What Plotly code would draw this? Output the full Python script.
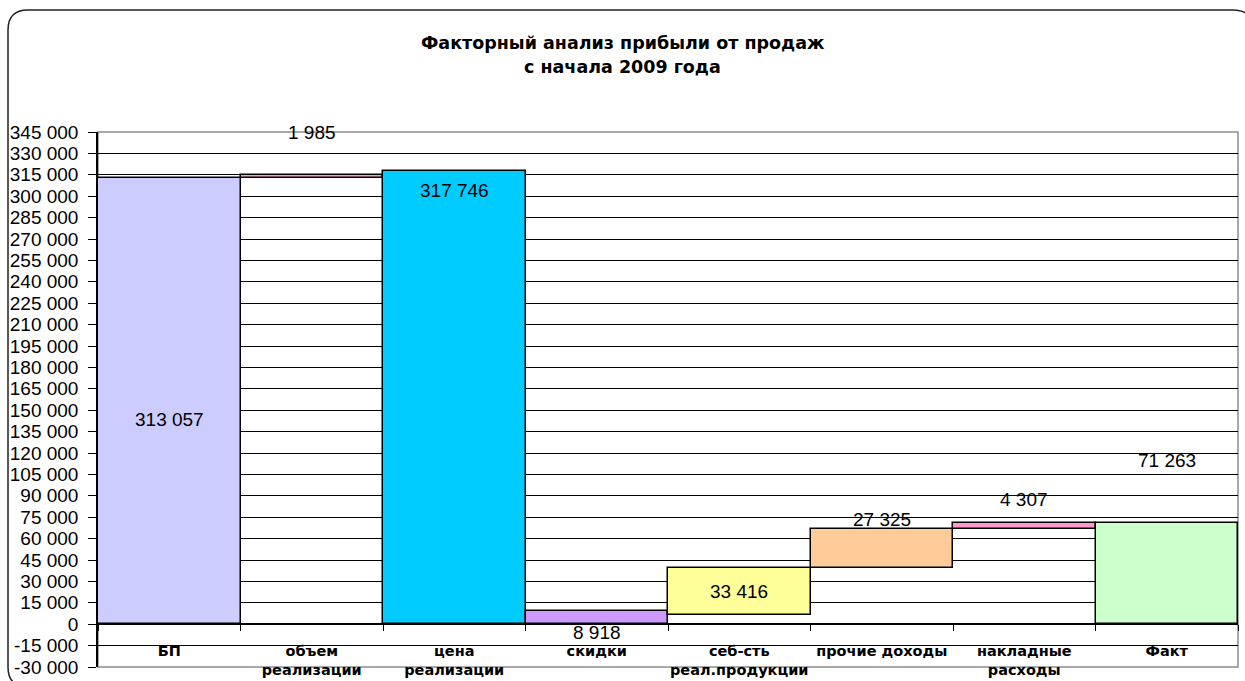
import plotly.graph_objects as go

# ---- data ----
categories = ["БП", "объем<br>реализации", "цена<br>реализации", "скидки",
              "себ-сть<br>реал.продукции", "прочие доходы", "накладные<br>расходы", "Факт"]
values = [313057, 1985, 317746, 8918, 33416, 27325, 4307, 71263]
bases = [0, 313057, 0, 0, 6215, 39631, 66956, 0]
colors = ["#CCCCFF", "#FF99CC", "#00CCFF", "#CC99FF", "#FFFF99", "#FFCC99", "#FF99CC", "#CCFFCC"]
y_ticks = list(range(-30000, 345001, 15000))
title_lines = ["Факторный анализ прибыли от продаж", "с начала 2009 года"]

# ---- layout geometry (pixels) ----
W, H = 1245, 681
L, R, T, B = 98, 7, 132, 14
PW, PH = W - L - R, H - T - B


def px(x):
    return (x - L) / PW


def py(y):
    return (H - B - y) / PH


def fmt(v):
    return f"{v:,}".replace(",", " ")


fig = go.Figure()
fig.add_trace(go.Bar(
    x=categories, y=values, base=bases, width=1,
    marker=dict(color=colors, line=dict(color="black", width=1.5)),
    hoverinfo="skip", showlegend=False,
))

# data labels: anchor on bar top or middle, with pixel offsets
label_anchor = ["mid", "top", "top", "top", "mid", "top", "top", "top"]
label_shift = [-19, 42, -20, -21.5, 0, 9, 22.6, 61.6]
annotations = []
for c, v, b, a, s in zip(categories, values, bases, label_anchor, label_shift):
    yv = b + v if a == "top" else b + v / 2
    annotations.append(dict(
        x=c, y=yv, xref="x", yref="y", text=fmt(v), showarrow=False,
        yanchor="middle", xanchor="center", yshift=s,
        font=dict(family="Liberation Sans, Arial", size=19, color="black"),
    ))

# title lines
for i, line in enumerate(title_lines):
    annotations.append(dict(
        x=px(W / 2), y=py(43 + 24 * i), xref="paper", yref="paper", text=line,
        showarrow=False, xanchor="center", yanchor="middle",
        font=dict(family="DejaVu Sans", size=17.5, color="black", weight="bold"),
    ))

# rounded chart-area frame
fl, ft, fr, fb, rad = 8, 10, 1253, 687, 20
path = (f"M {px(fl)},{py(fb - rad)} L {px(fl)},{py(ft + rad)} "
        f"Q {px(fl)},{py(ft)} {px(fl + rad)},{py(ft)} "
        f"L {px(fr - rad)},{py(ft)} Q {px(fr)},{py(ft)} {px(fr)},{py(ft + rad)} "
        f"L {px(fr)},{py(fb - rad)} Q {px(fr)},{py(fb)} {px(fr - rad)},{py(fb)} "
        f"L {px(fl + rad)},{py(fb)} Q {px(fl)},{py(fb)} {px(fl)},{py(fb - rad)} Z")

shapes = [
    dict(type="path", path=path, xref="paper", yref="paper",
         line=dict(color="#222222", width=1.5), layer="below"),
    dict(type="rect", x0=0, x1=1, y0=0, y1=1, xref="paper", yref="paper",
         line=dict(color="#8c8c8c", width=1.5), layer="below"),
]

fig.update_layout(
    width=W, height=H,
    margin=dict(l=L, r=R, t=T, b=B, pad=0, autoexpand=False),
    paper_bgcolor="white", plot_bgcolor="white",
    bargap=0, separators=", ",
    annotations=annotations, shapes=shapes,
    xaxis=dict(
        type="category", categoryorder="array", categoryarray=categories,
        anchor="free", position=30000 / 375000, automargin=False,
        showgrid=False, showline=False, zeroline=False,
        ticks="outside", tickson="boundaries", ticklen=6, tickcolor="black", tickwidth=1,
        tickangle=0,
        tickfont=dict(family="DejaVu Sans", size=14.5, color="black", weight="bold"),
        ticklabelstandoff=16, range=[-0.5, 7.5],
    ),
    yaxis=dict(
        range=[-30000, 345000], tickvals=y_ticks, ticktext=[fmt(v) for v in y_ticks],
        automargin=False,
        showgrid=True, gridcolor="black", gridwidth=1,
        zeroline=True, zerolinecolor="black", zerolinewidth=2,
        showline=True, linecolor="black", linewidth=1.5,
        ticks="outside", ticklen=8, tickcolor="black", tickwidth=1,
        tickfont=dict(family="Liberation Sans, Arial", size=19, color="black"),
        ticklabelstandoff=6,
    ),
)

fig.write_html("out.html", config={"displayModeBar": False},
               post_script="document.body.style.margin='0';")
